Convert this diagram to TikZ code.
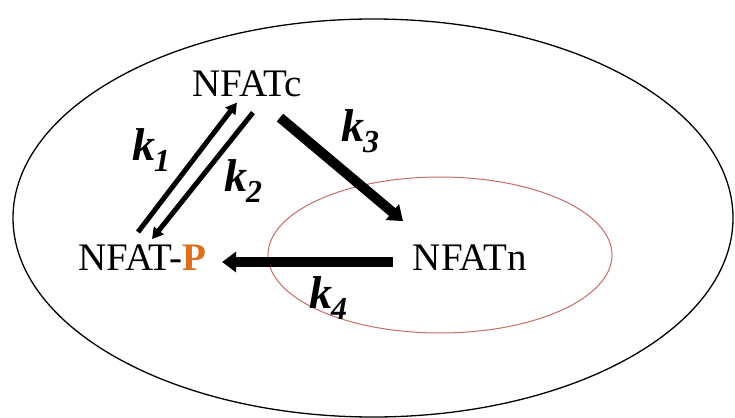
\documentclass[tikz,border=0pt]{standalone}
\usepackage{fontspec}
\setmainfont{Liberation Serif}
\usetikzlibrary{arrows.meta,calc}
\definecolor{porange}{RGB}{222,112,28}
\definecolor{cellred}{RGB}{196,110,104}
\tikzset{
  species/.style={inner sep=0pt, anchor=base, font=\fontsize{39}{39}\selectfont},
  rate/.style={inner sep=0pt},
  thinarrow/.style={line width=5pt, -{Triangle[width=12pt,length=11pt]}},
  thickarrow/.style={line width=10pt, -{Triangle[width=20pt,length=14pt]}},
}
\newcommand{\ratek}[1]{{\fontsize{46}{46}\selectfont\bfseries\itshape k}\kern-1pt\raisebox{-11pt}{\fontsize{32}{32}\selectfont\bfseries\itshape #1}}
\begin{document}
\begin{tikzpicture}[x=1pt,y=-1pt]
\useasboundingbox (0,0) rectangle (735,417);
\fill[white] (0,0) rectangle (735,417);
\draw[line width=1.3pt] (373,218) ellipse [x radius=360, y radius=199];
\draw[cellred, line width=1pt] (440,255) ellipse [x radius=172, y radius=78];

\node[species] (c) at (247,96) {NFATc};
\node[species] (p) at (142,270) {NFAT-{\color{porange}\bfseries P}};
\node[species] (n) at (470,270) {NFATn};

\draw[thinarrow] ([shift={(-4,-12)}]p.north) -- ([shift={(-10,6)}]c.south);
\draw[thinarrow] ([shift={(6,16)}]c.south) -- ([shift={(10,-5)}]p.north);
\draw[thickarrow] ([shift={(33,21)}]c.south) -- ([shift={(-67,-23)}]n.north);
\draw[thickarrow] ([shift={(-20,-8)}]n.base west) -- ([shift={(16,-8)}]p.base east);

\node[rate] (k1) at (151,150) {\ratek{1}};
\node[rate] (k2) at (243,181) {\ratek{2}};
\node[rate] (k3) at (360,131) {\ratek{3}};
\node[rate] (k4) at (328,298) {\ratek{4}};
\end{tikzpicture}
\end{document}
